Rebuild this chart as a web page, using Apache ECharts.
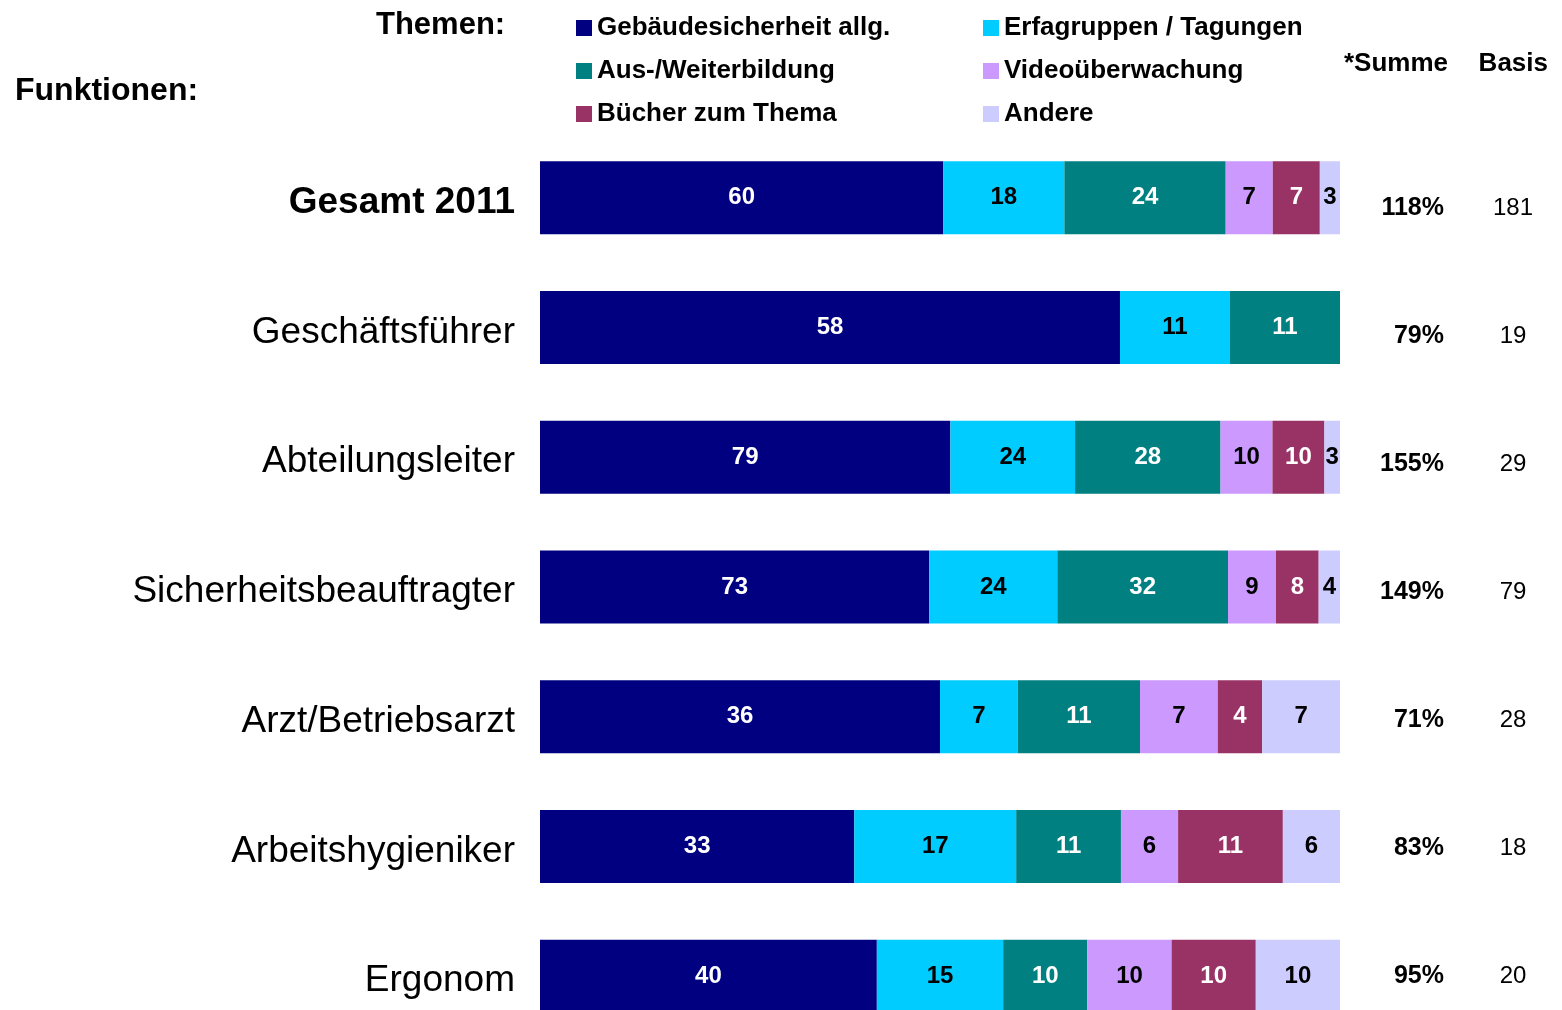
<!DOCTYPE html>
<html>
<head>
<meta charset="utf-8">
<script src="https://cdn.jsdelivr.net/npm/echarts@6/dist/echarts.min.js"></script>
<style>
  html, body { margin: 0; padding: 0; background: #fff; }
  #chart { width: 1562px; height: 1010px; }
</style>
</head>
<body>
<div id="chart"></div>
<script>
// Funktionen (Zeilen)
var funktionen = ['Gesamt 2011', 'Geschäftsführer', 'Abteilungsleiter', 'Sicherheitsbeauftragter',
    'Arzt/Betriebsarzt', 'Arbeitshygieniker', 'Ergonom'];
// Themen (Serien)
var themen = ['Gebäudesicherheit allg.', 'Erfagruppen / Tagungen', 'Aus-/Weiterbildung',
    'Videoüberwachung', 'Bücher zum Thema', 'Andere'];
// Werte in % pro Thema
var gebaeude = [60, 58, 79, 73, 36, 33, 40];
var erfa = [18, 11, 24, 24, 7, 17, 15];
var ausbildung = [24, 11, 28, 32, 11, 11, 10];
var video = [7, 0, 10, 9, 7, 6, 10];
var buecher = [7, 0, 10, 8, 4, 11, 10];
var andere = [3, 0, 3, 4, 7, 6, 10];
// rechte Spalten
var summe = [118, 79, 155, 149, 71, 83, 95];
var basis = [181, 19, 29, 79, 28, 18, 20];

var farben = ['#000080', '#00ccff', '#008080', '#cc99ff', '#993366', '#ccccff'];
var labelFarben = ['#fff', '#000', '#fff', '#000', '#fff', '#000'];
var font = "'Liberation Sans', Arial, sans-serif";

var reihen = [gebaeude, erfa, ausbildung, video, buecher, andere];

// Zeilensumme -> jede Zeile auf 100% normieren
var zeilenSumme = [];
for (var i = 0; i < funktionen.length; i++) {
    var s = 0;
    for (var k = 0; k < reihen.length; k++) s += reihen[k][i];
    zeilenSumme.push(s);
}

var series = [];
for (var k = 0; k < reihen.length; k++) {
    (function (k) {
        var d = [];
        for (var i = 0; i < funktionen.length; i++) {
            d.push(reihen[k][i] / zeilenSumme[i] * 100);
        }
        series.push({
            name: themen[k],
            type: 'bar',
            stack: 'all',
            barWidth: 73,
            itemStyle: { color: farben[k] },
            label: {
                show: true,
                position: 'inside',
                color: labelFarben[k],
                fontFamily: font,
                fontWeight: 'bold',
                fontSize: 24,
                formatter: function (p) {
                    var v = reihen[k][p.dataIndex];
                    return v ? String(v) : '';
                }
            },
            data: d
        });
    })(k);
}

var oChart = echarts.init(document.getElementById('chart'));
var legendText = { fontFamily: font, fontSize: 26, fontWeight: 'bold', color: '#000', lineHeight: 26 };
var option = {
    animation: false,
    textStyle: { fontFamily: font, color: '#000' },
    title: [
        { text: 'Themen:', left: 371, top: 5, textStyle: { fontFamily: font, fontSize: 31, fontWeight: 'bold', color: '#000' } },
        { text: 'Funktionen:', left: 10, top: 70, textStyle: { fontFamily: font, fontSize: 32, fontWeight: 'bold', color: '#000' } },
        { text: '*Summe', right: 109, top: 46, textStyle: { fontFamily: font, fontSize: 26, fontWeight: 'bold', color: '#000' } },
        { text: 'Basis', right: 9, top: 46, textStyle: { fontFamily: font, fontSize: 26, fontWeight: 'bold', color: '#000' } }
    ],
    legend: [
        {
            orient: 'vertical', left: 571, top: 10,
            itemWidth: 16, itemHeight: 16, itemGap: 17,
            icon: 'rect',
            data: [themen[0], themen[2], themen[4]],
            textStyle: legendText
        },
        {
            orient: 'vertical', left: 978, top: 10,
            itemWidth: 16, itemHeight: 16, itemGap: 17,
            icon: 'rect',
            data: [themen[1], themen[3], themen[5]],
            textStyle: legendText
        }
    ],
    grid: [
        { left: 540, width: 800, top: 133, height: 908, outerBoundsMode: 'none' },
        // Summe/Basis-Spalten haben einen etwas engeren Zeilenabstand
        { left: 540, width: 800, top: 144, height: 896, outerBoundsMode: 'none' }
    ],
    xAxis: [
        { type: 'value', min: 0, max: 100, show: false, gridIndex: 0 },
        { type: 'value', min: 0, max: 100, show: false, gridIndex: 1 }
    ],
    yAxis: [
        {
            type: 'category',
            gridIndex: 0,
            inverse: true,
            data: funktionen,
            axisLine: { show: false },
            axisTick: { show: false },
            axisLabel: {
                margin: 25,
                fontFamily: font,
                fontSize: 37,
                color: '#000',
                verticalAlign: 'top',
                lineHeight: 10,
                formatter: function (v, i) { return i === 0 ? '{b|' + v + '}' : v; },
                rich: { b: { fontFamily: font, fontSize: 37, fontWeight: 'bold', color: '#000', lineHeight: 10 } }
            }
        },
        {
            type: 'category',
            gridIndex: 1,
            inverse: true,
            position: 'right',
            data: summe.map(function (v) { return v + '%'; }),
            axisLine: { show: false },
            axisTick: { show: false },
            axisLabel: {
                margin: 104, align: 'right',
                fontFamily: font, fontSize: 25, fontWeight: 'bold', color: '#000'
            }
        },
        {
            type: 'category',
            gridIndex: 1,
            inverse: true,
            position: 'right',
            data: basis.map(String),
            axisLine: { show: false },
            axisTick: { show: false },
            axisLabel: {
                margin: 173, align: 'center',
                fontFamily: font, fontSize: 24, color: '#000'
            }
        }
    ],
    series: series
};
oChart.setOption(option);
</script>
</body>
</html>
